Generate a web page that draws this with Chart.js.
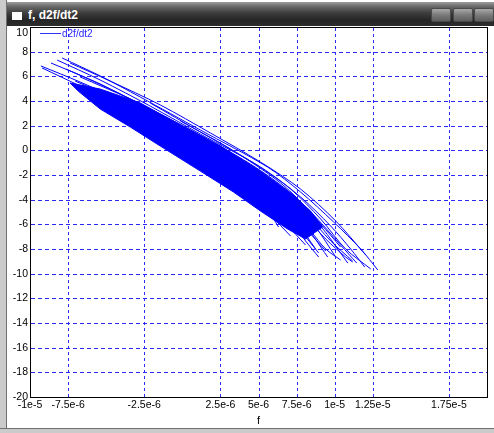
<!DOCTYPE html>
<html>
<head>
<meta charset="utf-8">
<script src="https://cdn.jsdelivr.net/npm/chart.js"></script>
<style>
  html, body { margin: 0; padding: 0; background: #fff; }
  #win { position: absolute; left: 0; top: 0; width: 494px; height: 433px; background: #fff; overflow: hidden; }
  #leftb { position: absolute; left: 0; top: 0; width: 6px; height: 433px; background: #cbcbcb; border-right: 1px solid #707070; }
  #botb { position: absolute; left: 0; top: 428px; width: 494px; height: 5px; background: #cbcbcb; border-top: 1px solid #707070; }
  #title { position: absolute; left: 7px; top: 2px; width: 487px; height: 24px;
           background: linear-gradient(to bottom, #9c9c9c 0%, #6a6a6a 18%, #3e3e3e 45%, #252525 75%, #2c2c2c 100%); }
  #icon { position: absolute; left: 5px; top: 10px; width: 10px; height: 8px; background: #fff; }
  #ttext { position: absolute; left: 21px; top: 6px; font: bold 12px "Liberation Sans", Arial, sans-serif; color: #fff; white-space: pre; }
  .btn { position: absolute; top: 6px; height: 14px; width: 20px; border-radius: 2px;
         background: linear-gradient(to bottom, #a8a8a8 0%, #7a7a7a 50%, #5e5e5e 100%); border: 1px solid #4a4a4a; box-sizing: border-box; }
  #cv { position: absolute; left: 0; top: 0; z-index: 2; }
  #leg { position: absolute; left: 40px; top: 27px; height: 12px; display: flex; align-items: center; z-index: 3; }
  #legline { display: inline-block; width: 21px; height: 1px; background: #3030ff; margin-right: 1px; }
  #legtext { font: 10px "Liberation Sans", Arial, sans-serif; color: #2828ff; }
</style>
</head>
<body>
<div id="win">
  <div id="leftb"></div>
  <div id="botb"></div>
  <div id="title">
    <div id="icon"></div>
    <div id="ttext">f, d2f/dt2</div>
    <div class="btn" style="left:424px"></div>
    <div class="btn" style="left:446px"></div>
    <div class="btn" style="left:467px"></div>
  </div>
  <canvas id="cv" width="494" height="433"></canvas>
  <div id="leg"><span id="legline"></span><span id="legtext">d2f/dt2</span></div>
</div>
<script>
// ---------------- data ----------------
const seriesName = 'd2f/dt2';
const xAxisTitle = 'f';
const xMin = -1e-5, xMax = 2e-5;
const yMin = -20, yMax = 10;
const xTickValues = [-1e-5, -7.5e-6, -2.5e-6, 2.5e-6, 5e-6, 7.5e-6, 1e-5, 1.25e-5, 1.75e-5];
const xTickLabels = ['-1e-5', '-7.5e-6', '-2.5e-6', '2.5e-6', '5e-6', '7.5e-6', '1e-5', '1.25e-5', '1.75e-5'];
const yTickValues = [-20, -18, -16, -14, -12, -10, -8, -6, -4, -2, 0, 2, 4, 6, 8, 10];

// dense core of the trajectory band (closed outline)
const coreBand = [
  [-7.37e-6, 5.46], [-5.39e-6, 4.97], [-2.76e-6, 3.84], [-0.13e-6, 2.05], [2.50e-6, 0.35],
  [5.13e-6, -1.68], [7.11e-6, -3.46], [8.42e-6, -4.92], [9.21e-6, -6.22],
  [8.09e-6, -7.19], [6.91e-6, -6.38], [5.13e-6, -4.92], [3.36e-6, -3.38], [1.18e-6, -1.68],
  [-1.45e-6, 0.35], [-3.42e-6, 1.89], [-5.39e-6, 3.35], [-6.84e-6, 4.81], [-7.37e-6, 5.46]
];
// individual visible trajectory strands
const curve01 = [[-7.89e-6, 7.49], [-5.39e-6, 6.03], [-2.76e-6, 4.32], [1.18e-6, 1.65], [5.59e-6, -1.35], [7.76e-6, -3.38], [9.93e-6, -5.81], [11.71e-6, -8.00], [12.83e-6, -9.70]];
const curve02 = [[-8.22e-6, 7.32], [-5.39e-6, 5.70], [-2.11e-6, 3.59], [1.18e-6, 1.32], [5.13e-6, -1.35], [7.76e-6, -3.78], [9.74e-6, -6.14], [11.05e-6, -8.00], [11.97e-6, -9.46]];
const curve03 = [[-8.62e-6, 7.08], [-5.39e-6, 5.38], [-2.11e-6, 3.27], [1.18e-6, 1.00], [4.47e-6, -1.27], [7.11e-6, -3.62], [9.08e-6, -6.14], [10.86e-6, -9.14]];
const curve04 = [[-9.28e-6, 6.84], [-6.71e-6, 5.54], [-4.08e-6, 4.08], [-0.79e-6, 1.97], [2.50e-6, -0.46], [5.79e-6, -3.30], [7.76e-6, -5.57], [9.54e-6, -8.65]];
const curve05 = [[-9.21e-6, 6.68], [-6.71e-6, 5.22], [-3.42e-6, 3.27], [-0.13e-6, 1.16], [3.16e-6, -1.27], [5.79e-6, -3.62], [7.43e-6, -5.73], [8.75e-6, -8.00]];
const curve06 = [[-7.63e-6, 6.59], [-4.74e-6, 4.97], [-1.45e-6, 2.95], [2.50e-6, 0.27], [5.79e-6, -2.41], [8.09e-6, -5.08], [9.74e-6, -7.35], [11.18e-6, -8.97]];
const curve07 = [[-6.71e-6, 5.95], [-3.42e-6, 4.16], [0.53e-6, 1.65], [4.47e-6, -1.11], [7.11e-6, -3.46], [9.08e-6, -5.97], [10.39e-6, -7.84]];
const curve08 = [[-7.04e-6, 5.62], [-4.08e-6, 4.00], [-0.13e-6, 1.49], [3.82e-6, -1.51], [6.45e-6, -4.11], [8.42e-6, -6.78], [9.41e-6, -8.16]];
const curve09 = [[1.18e-6, -1.51], [3.82e-6, -3.54], [5.79e-6, -5.32], [7.11e-6, -6.95]];
const curve10 = [[3.16e-6, -2.73], [5.13e-6, -4.35], [6.78e-6, -5.97], [8.09e-6, -7.68]];
const curve11 = [[4.47e-6, -3.14], [6.45e-6, -4.92], [7.76e-6, -6.54], [8.95e-6, -8.32]];
const curve12 = [[-2.11e-6, 3.84], [1.18e-6, 1.49], [4.47e-6, -0.87], [7.11e-6, -3.14], [9.08e-6, -5.57], [10.72e-6, -8.00], [12.37e-6, -9.62]];
const curve13 = [[-0.13e-6, 2.38], [3.16e-6, 0.11], [6.45e-6, -2.65], [8.75e-6, -5.41], [10.39e-6, -7.68], [11.45e-6, -9.14]];
const curve14 = [[2.50e-6, 0.11], [5.13e-6, -2.00], [7.11e-6, -3.95], [8.75e-6, -6.22], [10.07e-6, -8.65]];
const curve15 = [[3.82e-6, -2.32], [5.79e-6, -4.11], [7.11e-6, -5.73], [8.09e-6, -7.35], [8.95e-6, -8.65]];
const curve16 = [[1.84e-6, -1.11], [4.14e-6, -3.14], [5.46e-6, -4.59], [6.32e-6, -6.22]];
const curve17 = [[-7.37e-6, 7.08], [-4.74e-6, 5.62], [-1.45e-6, 3.68], [1.84e-6, 1.41], [5.13e-6, -0.95], [7.76e-6, -3.14], [10.07e-6, -5.73], [12.04e-6, -8.49]];
const curve18 = [[5.13e-6, -2.73], [7.11e-6, -4.76], [8.42e-6, -6.54], [9.41e-6, -8.00], [10.39e-6, -8.89]];
const curve19 = [[6.45e-6, -3.54], [8.09e-6, -5.41], [9.41e-6, -7.19], [10.72e-6, -8.65], [11.18e-6, -9.05]];

const strands = [curve01, curve02, curve03, curve04, curve05, curve06, curve07, curve08, curve09, curve10,
                 curve11, curve12, curve13, curve14, curve15, curve16, curve17, curve18, curve19];

// ---------------- chart ----------------
const BLUE = '#0000ff';
const GRID = '#2a2aff';
const FONT = '"Liberation Sans", Arial, sans-serif';
const toXY = arr => arr.map(p => ({ x: p[0], y: p[1] }));

const datasets = [{
  label: seriesName,
  data: toXY(coreBand),
  showLine: true,
  borderColor: BLUE,
  backgroundColor: BLUE,
  borderWidth: 1,
  pointRadius: 0,
  tension: 0,
  fill: 'shape'
}];
strands.forEach(c => datasets.push({
  label: seriesName,
  data: toXY(c),
  showLine: true,
  borderColor: BLUE,
  borderWidth: 1,
  pointRadius: 0,
  tension: 0.3,
  fill: false
}));

// dashed grid drawn pixel-exact from the scales' own ticks, plus the black plot frame
const gridFramePlugin = {
  id: 'gridFrame',
  beforeDatasetsDraw(chart) {
    const { ctx, chartArea: a, scales } = chart;
    const L = Math.round(a.left), R = Math.round(a.right), T = Math.round(a.top), B = Math.round(a.bottom);
    ctx.save();
    ctx.fillStyle = GRID;
    scales.x.ticks.forEach(t => {
      const px = Math.round(scales.x.getPixelForValue(t.value));
      for (let y = T + 1; y < B; y += 6) ctx.fillRect(px, y, 1, Math.min(3, B - y));
    });
    scales.y.ticks.forEach(t => {
      const py = Math.round(scales.y.getPixelForValue(t.value));
      for (let x = L + 1; x < R; x += 7) ctx.fillRect(x, py, Math.min(4, R - x), 1);
    });
    ctx.restore();
  },
  afterDraw(chart) {
    const { ctx, chartArea: a } = chart;
    ctx.save();
    ctx.setLineDash([]);
    ctx.strokeStyle = '#000';
    ctx.lineWidth = 1;
    ctx.strokeRect(Math.round(a.left) + 0.5, Math.round(a.top) + 0.5, Math.round(a.right - a.left), Math.round(a.bottom - a.top));
    ctx.restore();
  }
};

new Chart(document.getElementById('cv'), {
  type: 'scatter',
  data: { datasets },
  plugins: [gridFramePlugin],
  options: {
    responsive: false,
    animation: false,
    layout: { padding: { left: 0, right: 7, top: 27, bottom: 0 } },
    plugins: { legend: { display: false }, tooltip: { enabled: false } },
    scales: {
      x: {
        type: 'linear',
        min: xMin, max: xMax,
        afterBuildTicks: s => { s.ticks = xTickValues.map(v => ({ value: v })); },
        afterFit: s => { s.height = 36; },
        ticks: {
          autoSkip: false, maxRotation: 0, padding: 2,
          color: '#000', font: { family: FONT, size: 10.5 },
          callback: (v) => { const i = xTickValues.indexOf(v); return i >= 0 ? xTickLabels[i] : ''; }
        },
        grid: { display: false, drawTicks: false, tickLength: 0 },
        border: { display: false },
        title: { display: true, text: xAxisTitle, color: '#000', font: { family: FONT, size: 11 }, padding: { top: 0, bottom: 5 } }
      },
      y: {
        type: 'linear',
        min: yMin, max: yMax,
        afterBuildTicks: s => { s.ticks = yTickValues.map(v => ({ value: v })); },
        afterFit: s => { s.width = 30; },
        ticks: {
          autoSkip: false, padding: 2, color: '#000', font: { family: FONT, size: 10.5 },
          callback: (v) => v === yMax ? ['', String(v)] : String(v)
        },
        grid: { display: false, drawTicks: false, tickLength: 0 },
        border: { display: false }
      }
    }
  }
});
</script>
</body>
</html>
